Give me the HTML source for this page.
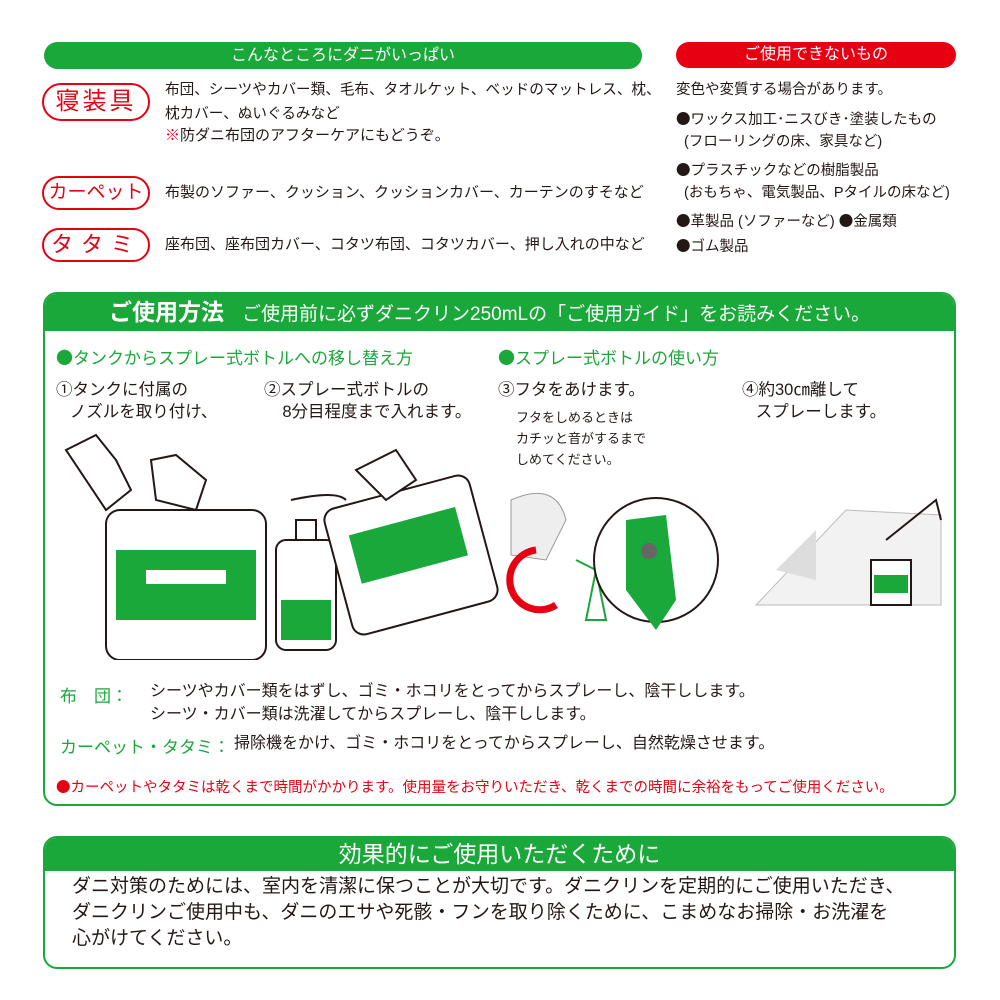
<!DOCTYPE html>
<html><head><meta charset="utf-8"><style>
body{margin:0;width:1000px;height:1000px;background:#fff;position:relative;overflow:hidden;font-family:"Liberation Sans","Noto Sans CJK JP",sans-serif;color:#231815}
.a{position:absolute;white-space:nowrap}
.t{font-size:15px;line-height:24px}
.pill{position:absolute;border:2.5px solid #e60012;border-radius:20px;color:#e60012;text-align:center;box-sizing:border-box;background:#fff}
.g{color:#1aa83a}
.b{font-family:"Noto Sans CJK JP",sans-serif}
</style></head><body>
<div class="a" style="left:44px;top:42px;width:598px;height:27px;background:#1aa83a;border-radius:14px;color:#fff;text-align:center;font-size:16px;line-height:27px">こんなところにダニがいっぱい</div>
<div class="a" style="left:676px;top:42px;width:280px;height:26px;background:#e60012;border-radius:13px;color:#fff;text-align:center;font-size:16px;line-height:26px">ご使用できないもの</div>

<div class="pill" style="left:42px;top:83px;width:108px;height:38px;font-size:24px;line-height:33px;letter-spacing:3px">寝装具</div>
<div class="pill" style="left:42px;top:176px;width:108px;height:34px;font-size:19px;line-height:29px">カーペット</div>
<div class="pill" style="left:42px;top:228px;width:108px;height:34px;font-size:22px;line-height:29px;letter-spacing:8px">タタミ</div>

<div class="a t" style="left:165px;top:78px;font-size:14.6px">布団、シーツやカバー類、毛布、タオルケット、ベッドのマットレス、枕、<br>枕カバー、ぬいぐるみなど</div>
<div class="a t" style="left:165px;top:124px"><span style="color:#e60012">※</span>防ダニ布団のアフターケアにもどうぞ<span style="color:#1d2088">。</span></div>
<div class="a t" style="left:165px;top:181px">布製のソファー、クッション、クッションカバー、カーテンのすそなど</div>
<div class="a t" style="left:165px;top:233px">座布団、座布団カバー、コタツ布団、コタツカバー、押し入れの中など</div>

<div class="a t" style="left:676px;top:78px;font-size:14.5px">変色や変質する場合があります。</div>
<div class="a t" style="left:676px;top:108px;line-height:22px;font-size:14.5px"><span class="b">●</span>ワックス加工･ニスびき･塗装したもの<br>&nbsp;&nbsp;(フローリングの床、家具など)</div>
<div class="a t" style="left:676px;top:159px;line-height:22px;font-size:14.5px"><span class="b">●</span>プラスチックなどの樹脂製品<br>&nbsp;&nbsp;(おもちゃ、電気製品、Pタイルの床など)</div>
<div class="a t" style="left:676px;top:209px;font-size:14.5px"><span class="b">●</span>革製品 (ソファーなど) <span class="b">●</span>金属類</div>
<div class="a t" style="left:676px;top:234px;font-size:14.5px"><span class="b">●</span>ゴム製品</div>

<div class="a" style="left:43px;top:292px;width:913px;height:514px;border:2px solid #1aa83a;border-radius:14px;box-sizing:border-box;overflow:hidden">
<div style="height:37px;background:#1aa83a;color:#fff;line-height:37px;padding-left:64px;font-size:19px"><span style="font-size:23px;font-weight:bold;margin-right:18px">ご使用方法</span>ご使用前に必ずダニクリン250mLの「ご使用ガイド」をお読みください。</div>
</div>
<div class="a g" style="left:56px;top:344px;font-size:17px"><span class="b">●</span>タンクからスプレー式ボトルへの移し替え方</div>
<div class="a g" style="left:498px;top:344px;font-size:17px"><span class="b">●</span>スプレー式ボトルの使い方</div>
<div class="a t" style="left:56px;top:379px;font-size:16.5px;line-height:22px">①タンクに付属の<br>&nbsp;&nbsp;&nbsp;ノズルを取り付け、</div>
<div class="a t" style="left:264px;top:379px;font-size:16.5px;line-height:22px">②スプレー式ボトルの<br>&nbsp;&nbsp;&nbsp;&nbsp;8分目程度まで入れます。</div>
<div class="a t" style="left:498px;top:379px;font-size:16.5px;line-height:22px">③フタをあけます。</div>
<div class="a" style="left:516px;top:407px;font-size:13px;line-height:21px">フタをしめるときは<br>カチッと音がするまで<br>しめてください。</div>
<div class="a t" style="left:742px;top:379px;font-size:16.5px;line-height:22px">④約30㎝離して<br>&nbsp;&nbsp;&nbsp;スプレーします。</div>

<svg class="a" style="left:56px;top:420px" width="890" height="240" fill="none" stroke="#231815" stroke-width="2">
<rect x="50" y="90" width="160" height="150" rx="14" fill="#fff"/>
<rect x="60" y="130" width="140" height="70" fill="#1aa83a" stroke="none"/>
<rect x="90" y="150" width="80" height="14" fill="#fff" stroke="none"/>
<path d="M10 30 L40 15 L60 40 L75 70 L50 90 Z" fill="#fff"/>
<path d="M95 40 L120 35 L150 60 L140 90 L100 80 Z" fill="#fff"/>
<rect x="220" y="120" width="60" height="110" rx="10" fill="#fff"/>
<rect x="225" y="180" width="50" height="40" fill="#1aa83a" stroke="none"/>
<path d="M240 120 L240 100 L260 100 L260 120"/>
<path d="M290 80 Q280 70 235 80"/>
<rect x="280" y="70" width="150" height="130" rx="12" transform="rotate(-15 355 135)" fill="#fff"/>
<rect x="300" y="100" width="110" height="50" fill="#1aa83a" stroke="none" transform="rotate(-15 355 135)"/>
<path d="M300 50 L340 30 L360 60 L330 80 Z" fill="#fff"/>
<path d="M455 80 Q500 60 510 100 L490 140 L455 135 Z" fill="#eee" stroke="#999" stroke-width="1"/>
<path d="M480 130 A30 30 0 1 0 500 185" stroke="#e60012" stroke-width="7"/>
<path d="M520 140 L540 150 L530 200 L550 200 L540 150" stroke="#1aa83a"/>
<circle cx="600" cy="140" r="62" fill="#fff"/>
<path d="M570 100 L610 95 L620 180 L600 210 L570 170 Z" fill="#1aa83a" stroke="none"/>
<circle cx="593" cy="131" r="8" fill="#666" stroke="none"/>
<path d="M700 185 L790 90 L885 95 L885 185 Z" fill="#f2f2f2" stroke="#bbb" stroke-width="1"/>
<path d="M760 110 L720 150 L760 160 Z" fill="#ddd" stroke="none"/>
<rect x="815" y="140" width="40" height="45" fill="#fff"/>
<rect x="818" y="155" width="34" height="18" fill="#1aa83a" stroke="none"/>
<path d="M830 120 L880 80 L885 100" />
</svg>

<div class="a g" style="left:60px;top:682px;font-size:17px">布　団：</div>
<div class="a t" style="left:150px;top:680px;font-size:16px">シーツやカバー類をはずし、ゴミ・ホコリをとってからスプレーし、陰干しします。</div>
<div class="a t" style="left:150px;top:703px;font-size:16px">シーツ・カバー類は洗濯してからスプレーし、陰干しします。</div>
<div class="a g" style="left:60px;top:733px;font-size:17px">カーペット・タタミ：</div>
<div class="a t" style="left:234px;top:732px;font-size:16px">掃除機をかけ、ゴミ・ホコリをとってからスプレーし、自然乾燥させます。</div>
<div class="a" style="left:56px;top:776px;font-size:14.5px;color:#e60012"><span class="b">●</span>カーペットやタタミは乾くまで時間がかかります。使用量をお守りいただき、乾くまでの時間に余裕をもってご使用ください。</div>

<div class="a" style="left:43px;top:836px;width:913px;height:133px;border:2px solid #1aa83a;border-radius:14px;box-sizing:border-box;overflow:hidden">
<div style="height:33px;background:#1aa83a;color:#fff;line-height:33px;text-align:center;font-size:23px">効果的にご使用いただくために</div>
</div>
<div class="a" style="left:72px;top:874px;font-size:19px;line-height:26px">ダニ対策のためには、室内を清潔に保つことが大切です。ダニクリンを定期的にご使用いただき、<br>ダニクリンご使用中も、ダニのエサや死骸・フンを取り除くために、こまめなお掃除・お洗濯を<br>心がけてください。</div>
</body></html>
